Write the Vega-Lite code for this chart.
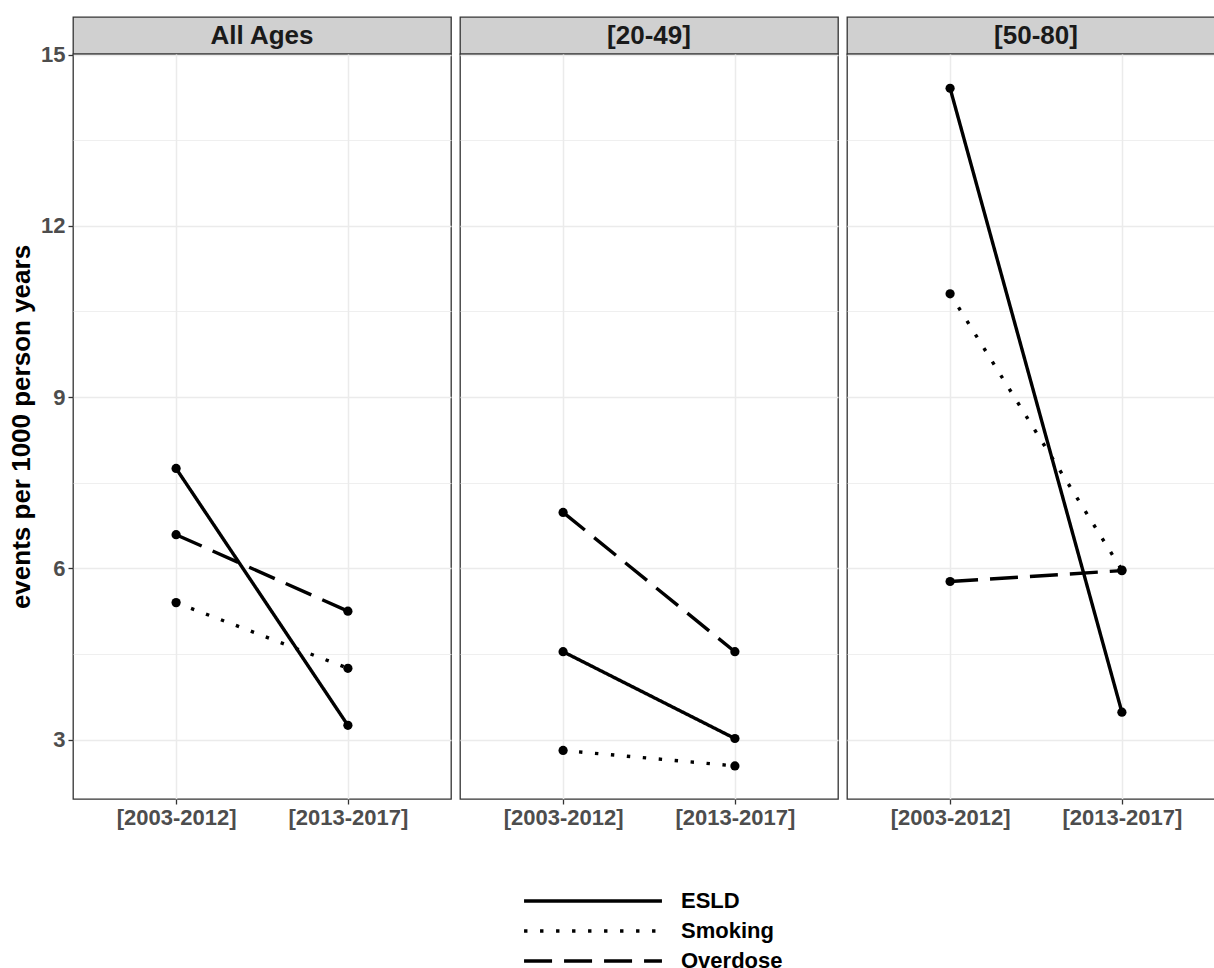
{
  "$schema": "https://vega.github.io/schema/vega-lite/v6.json",
  "background": "white",
  "padding": {"left": 7, "top": 16, "right": 0, "bottom": 0},
  "data": {"values": [
    {"panel": "All Ages", "period": "[2003-2012]", "outcome": "ESLD", "rate": 7.75},
    {"panel": "All Ages", "period": "[2013-2017]", "outcome": "ESLD", "rate": 3.25},
    {"panel": "All Ages", "period": "[2003-2012]", "outcome": "Smoking", "rate": 5.40},
    {"panel": "All Ages", "period": "[2013-2017]", "outcome": "Smoking", "rate": 4.25},
    {"panel": "All Ages", "period": "[2003-2012]", "outcome": "Overdose", "rate": 6.59},
    {"panel": "All Ages", "period": "[2013-2017]", "outcome": "Overdose", "rate": 5.25},
    {"panel": "[20-49]", "period": "[2003-2012]", "outcome": "ESLD", "rate": 4.54},
    {"panel": "[20-49]", "period": "[2013-2017]", "outcome": "ESLD", "rate": 3.02},
    {"panel": "[20-49]", "period": "[2003-2012]", "outcome": "Smoking", "rate": 2.81},
    {"panel": "[20-49]", "period": "[2013-2017]", "outcome": "Smoking", "rate": 2.54},
    {"panel": "[20-49]", "period": "[2003-2012]", "outcome": "Overdose", "rate": 6.98},
    {"panel": "[20-49]", "period": "[2013-2017]", "outcome": "Overdose", "rate": 4.54},
    {"panel": "[50-80]", "period": "[2003-2012]", "outcome": "ESLD", "rate": 14.41},
    {"panel": "[50-80]", "period": "[2013-2017]", "outcome": "ESLD", "rate": 3.48},
    {"panel": "[50-80]", "period": "[2003-2012]", "outcome": "Smoking", "rate": 10.81},
    {"panel": "[50-80]", "period": "[2013-2017]", "outcome": "Smoking", "rate": 5.97},
    {"panel": "[50-80]", "period": "[2003-2012]", "outcome": "Overdose", "rate": 5.77},
    {"panel": "[50-80]", "period": "[2013-2017]", "outcome": "Overdose", "rate": 5.96}
  ]},
  "config": {
    "font": "Liberation Sans",
    "axis": {"labelFont": "Liberation Sans", "titleFont": "Liberation Sans"},
    "legend": {"labelFont": "Liberation Sans"}
  },
  "resolve": {"scale": {"strokeDash": "shared"}, "legend": {"strokeDash": "shared"}},
  "spacing": 7,
  "hconcat": [
    {
      "spacing": 0,
      "bounds": "flush",
      "vconcat": [
        {
          "width": 378, "height": 37,
          "view": {"fill": "#D0D0D0", "stroke": "#333333", "strokeWidth": 1.3},
          "transform": [{"filter": "datum.panel === 'All Ages'"}, {"aggregate": [], "groupby": ["panel"]}],
          "mark": {"type": "text", "font": "Liberation Sans", "fontWeight": "bold", "fontSize": 26, "color": "#1A1A1A"},
          "encoding": {"text": {"field": "panel"}}
        },
        {
          "width": 378, "height": 745,
          "view": {"fill": "white", "stroke": "#333333", "strokeWidth": 1.3},
          "transform": [{"filter": "datum.panel === 'All Ages'"}],
          "encoding": {
            "x": {"field": "period", "type": "ordinal", "scale": {"type": "point", "padding": 0.6, "domain": ["[2003-2012]", "[2013-2017]"]},
                  "axis": {"title": null, "labelAngle": 0, "labelFontSize": 22, "labelFontWeight": "bold", "labelColor": "#4D4D4D", "labelPadding": 3, "tickSize": 5, "tickColor": "#333333", "tickWidth": 1.3, "domain": false, "grid": true, "gridColor": "#EBEBEB", "gridWidth": 1.5}},
            "y": {"field": "rate", "type": "quantitative", "scale": {"domain": [1.96, 15.01], "nice": false, "zero": false},
                  "axis": {"title": "events per 1000 person years", "titleFontSize": 26, "titleFontWeight": "bold", "titleColor": "black", "titlePadding": 6,
                           "values": [3, 4.5, 6, 7.5, 9, 10.5, 12, 13.5, 15],
                           "labelExpr": "datum.value % 3 === 0 ? datum.label : ''",
                           "labelFontSize": 22, "labelFontWeight": "bold", "labelColor": "#4D4D4D", "labelPadding": 3,
                           "tickSize": 5, "tickColor": "#333333", "tickWidth": 1.3,
                           "tickOpacity": {"condition": {"test": "datum.value % 3 === 0", "value": 1}, "value": 0},
                           "domain": false, "grid": true,
                           "gridColor": "#EBEBEB",
                           "gridWidth": {"condition": {"test": "datum.value % 3 === 0", "value": 1.5}, "value": 0.8}}}
          },
          "layer": [
            {"mark": {"type": "line", "color": "black", "strokeWidth": 3.4},
             "encoding": {"strokeDash": {"field": "outcome", "type": "nominal",
               "scale": {"domain": ["ESLD", "Smoking", "Overdose"], "range": [[1, 0], [3.4, 12.6], [28, 12]]},
               "legend": {"title": null, "orient": "none", "legendX": 508, "legendY": 872, "direction": "vertical",
                          "symbolType": "M-7,0H7", "symbolSize": 388, "symbolStrokeWidth": 3.5, "symbolStrokeColor": "black", "symbolFillColor": "transparent",
                          "labelFontSize": 22, "labelFontWeight": "bold", "labelColor": "black", "labelOffset": 76, "rowPadding": 7, "padding": 0}}}},
            {"mark": {"type": "point", "filled": true, "color": "black", "size": 85, "opacity": 1},
             "encoding": {"detail": {"field": "outcome"}}}
          ]
        }
      ]
    },
    {
      "spacing": 0,
      "bounds": "flush",
      "vconcat": [
        {
          "width": 378, "height": 37,
          "view": {"fill": "#D0D0D0", "stroke": "#333333", "strokeWidth": 1.3},
          "transform": [{"filter": "datum.panel === '[20-49]'"}, {"aggregate": [], "groupby": ["panel"]}],
          "mark": {"type": "text", "font": "Liberation Sans", "fontWeight": "bold", "fontSize": 26, "color": "#1A1A1A"},
          "encoding": {"text": {"field": "panel"}}
        },
        {
          "width": 378, "height": 745,
          "view": {"fill": "white", "stroke": "#333333", "strokeWidth": 1.3},
          "transform": [{"filter": "datum.panel === '[20-49]'"}],
          "encoding": {
            "x": {"field": "period", "type": "ordinal", "scale": {"type": "point", "padding": 0.6, "domain": ["[2003-2012]", "[2013-2017]"]},
                  "axis": {"title": null, "labelAngle": 0, "labelFontSize": 22, "labelFontWeight": "bold", "labelColor": "#4D4D4D", "labelPadding": 3, "tickSize": 5, "tickColor": "#333333", "tickWidth": 1.3, "domain": false, "grid": true, "gridColor": "#EBEBEB", "gridWidth": 1.5}},
            "y": {"field": "rate", "type": "quantitative", "scale": {"domain": [1.96, 15.01], "nice": false, "zero": false},
                  "axis": {"title": null, "labels": false, "ticks": false, "domain": false,
                           "values": [3, 4.5, 6, 7.5, 9, 10.5, 12, 13.5, 15], "grid": true,
                           "gridColor": "#EBEBEB",
                           "gridWidth": {"condition": {"test": "datum.value % 3 === 0", "value": 1.5}, "value": 0.8}}}
          },
          "layer": [
            {"mark": {"type": "line", "color": "black", "strokeWidth": 3.4},
             "encoding": {"strokeDash": {"field": "outcome", "type": "nominal",
               "scale": {"domain": ["ESLD", "Smoking", "Overdose"], "range": [[1, 0], [3.4, 12.6], [28, 12]]}}}},
            {"mark": {"type": "point", "filled": true, "color": "black", "size": 85, "opacity": 1},
             "encoding": {"detail": {"field": "outcome"}}}
          ]
        }
      ]
    },
    {
      "spacing": 0,
      "bounds": "flush",
      "vconcat": [
        {
          "width": 378, "height": 37,
          "view": {"fill": "#D0D0D0", "stroke": "#333333", "strokeWidth": 1.3},
          "transform": [{"filter": "datum.panel === '[50-80]'"}, {"aggregate": [], "groupby": ["panel"]}],
          "mark": {"type": "text", "font": "Liberation Sans", "fontWeight": "bold", "fontSize": 26, "color": "#1A1A1A"},
          "encoding": {"text": {"field": "panel"}}
        },
        {
          "width": 378, "height": 745,
          "view": {"fill": "white", "stroke": "#333333", "strokeWidth": 1.3},
          "transform": [{"filter": "datum.panel === '[50-80]'"}],
          "encoding": {
            "x": {"field": "period", "type": "ordinal", "scale": {"type": "point", "padding": 0.6, "domain": ["[2003-2012]", "[2013-2017]"]},
                  "axis": {"title": null, "labelAngle": 0, "labelFontSize": 22, "labelFontWeight": "bold", "labelColor": "#4D4D4D", "labelPadding": 3, "tickSize": 5, "tickColor": "#333333", "tickWidth": 1.3, "domain": false, "grid": true, "gridColor": "#EBEBEB", "gridWidth": 1.5}},
            "y": {"field": "rate", "type": "quantitative", "scale": {"domain": [1.96, 15.01], "nice": false, "zero": false},
                  "axis": {"title": null, "labels": false, "ticks": false, "domain": false,
                           "values": [3, 4.5, 6, 7.5, 9, 10.5, 12, 13.5, 15], "grid": true,
                           "gridColor": "#EBEBEB",
                           "gridWidth": {"condition": {"test": "datum.value % 3 === 0", "value": 1.5}, "value": 0.8}}}
          },
          "layer": [
            {"mark": {"type": "line", "color": "black", "strokeWidth": 3.4},
             "encoding": {"strokeDash": {"field": "outcome", "type": "nominal",
               "scale": {"domain": ["ESLD", "Smoking", "Overdose"], "range": [[1, 0], [3.4, 12.6], [28, 12]]}}}},
            {"mark": {"type": "point", "filled": true, "color": "black", "size": 85, "opacity": 1},
             "encoding": {"detail": {"field": "outcome"}}}
          ]
        }
      ]
    }
  ]
}
